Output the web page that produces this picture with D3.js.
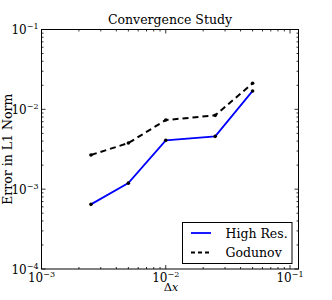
<!DOCTYPE html>
<html>
<head>
<meta charset="utf-8">
<script src="https://cdn.jsdelivr.net/npm/d3@7"></script>
<style>
  body { margin: 0; background: #fff; overflow: hidden; }
  svg { display: block; }
  text { font-family: "DejaVu Serif", "Liberation Serif", serif; fill: #000; }
</style>
</head>
<body>
<svg width="332" height="300"></svg>
<script>
const dx = [0.0025, 0.005, 0.01, 0.025, 0.05];
const highRes = [6.45e-4, 1.19e-3, 4.09e-3, 4.59e-3, 1.70e-2];
const godunov = [2.68e-3, 3.78e-3, 7.34e-3, 8.41e-3, 2.12e-2];
const xTicks = [1e-3, 1e-2, 1e-1];
const yTicks = [1e-4, 1e-3, 1e-2, 1e-1];
const seriesNames = ['High Res.', 'Godunov'];

const svg = d3.select('svg');
const margin = { top: 29.5, right: 33.5, bottom: 31, left: 41.5 };
const width = 332, height = 300;
const innerWidth = width - margin.left - margin.right;
const innerHeight = height - margin.top - margin.bottom;

// scales in absolute page coordinates
const xScale = d3.scaleLog().domain([1e-3, 0.117])
    .range([margin.left, margin.left + innerWidth]);
const yScale = d3.scaleLog().domain([1e-4, 1e-1])
    .range([margin.top + innerHeight, margin.top]);
const x0 = margin.left, x1 = margin.left + innerWidth;
const y0 = margin.top + innerHeight, y1 = margin.top;

// minor + major ticks, pointing inward on all four sides
const minorX = [], minorY = [];
for (let e = -3; e < 0; e++) for (let m = 2; m < 10; m++) {
    const v = m * Math.pow(10, e);
    if (v < 0.117) minorX.push(v);
}
for (let e = -4; e < -1; e++) for (let m = 2; m < 10; m++) minorY.push(m * Math.pow(10, e));

const tickG = svg.append('g').attr('stroke', '#000').attr('stroke-width', 0.8);
const xTick = (v, len) => {
    const x = xScale(v);
    tickG.append('line').attr('x1', x).attr('x2', x).attr('y1', y0).attr('y2', y0 - len);
    tickG.append('line').attr('x1', x).attr('x2', x).attr('y1', y1).attr('y2', y1 + len);
};
const yTick = (v, len) => {
    const y = yScale(v);
    tickG.append('line').attr('x1', x0).attr('x2', x0 + len).attr('y1', y).attr('y2', y);
    tickG.append('line').attr('x1', x1).attr('x2', x1 - len).attr('y1', y).attr('y2', y);
};
minorX.forEach(v => xTick(v, 2));
xTicks.forEach(v => xTick(v, 4));
minorY.forEach(v => yTick(v, 2));
yTicks.forEach(v => yTick(v, 4));

// "10" plus a superscript exponent, as two separate text nodes
const expLabel = (x, y, v, anchor) => {
    const e = '\u2212' + Math.abs(Math.round(Math.log10(v)));
    const base = svg.append('text').attr('y', y).attr('font-size', 12).attr('fill', '#222').text('10');
    const sup = svg.append('text').attr('y', y - 5).attr('font-size', 8).attr('fill', '#222').text(e);
    const bw = base.node().getComputedTextLength();
    const sw = sup.node().getComputedTextLength();
    const left = anchor === 'end' ? x - bw - sw : x - (bw + sw) / 2;
    base.attr('x', left);
    sup.attr('x', left + bw);
};

xTicks.forEach(v => expLabel(xScale(v), y0 + 12.5, v, 'middle'));
yTicks.forEach(v => expLabel(x0 - 3, yScale(v) + 4.5, v, 'end'));

// lines
const line = d3.line()
    .x((d, i) => xScale(dx[i]))
    .y(d => yScale(d));

svg.append('path').datum(godunov)
    .attr('fill', 'none').attr('stroke', '#000').attr('stroke-width', 2)
    .attr('stroke-dasharray', '6,4')
    .attr('d', line);
svg.append('path').datum(highRes)
    .attr('fill', 'none').attr('stroke', '#0000ff').attr('stroke-width', 1.8)
    .attr('d', line);

[highRes, godunov].forEach(s => {
    svg.selectAll(null).data(s).enter().append('circle')
        .attr('cx', (d, i) => xScale(dx[i]))
        .attr('cy', d => yScale(d))
        .attr('r', 1.8)
        .attr('fill', '#000');
});

// frame
svg.append('rect')
    .attr('x', x0).attr('y', y1)
    .attr('width', innerWidth).attr('height', innerHeight)
    .attr('fill', 'none').attr('stroke', '#000').attr('stroke-width', 1);

// legend
const lx = 182.5, ly = 222.5;
svg.append('rect').attr('x', lx).attr('y', ly).attr('width', 109.5).attr('height', 41)
    .attr('fill', '#fff').attr('stroke', '#000').attr('stroke-width', 1);
const styles = [
    { stroke: '#0000ff', dash: null, w: 1.8 },
    { stroke: '#000', dash: '4,3', w: 2 }
];
seriesNames.forEach((name, i) => {
    const y = ly + 10.5 + i * 19.5;
    svg.append('line')
        .attr('x1', lx + 8.5).attr('x2', lx + 28.5).attr('y1', y).attr('y2', y)
        .attr('stroke', styles[i].stroke).attr('stroke-width', styles[i].w)
        .attr('stroke-dasharray', styles[i].dash);
    svg.append('text')
        .attr('x', lx + 43).attr('y', y + 4.5)
        .attr('font-size', 12.5).text(name);
});

// titles
svg.append('text')
    .attr('x', margin.left + innerWidth / 2).attr('y', 24)
    .attr('text-anchor', 'middle').attr('font-size', 12.5)
    .text('Convergence Study');

svg.append('text')
    .attr('x', 168).attr('y', 290.5)
    .attr('text-anchor', 'middle').attr('font-size', 11.5)
    .text('\u0394');
svg.append('text')
    .attr('x', 175).attr('y', 290.5)
    .attr('text-anchor', 'middle').attr('font-size', 11.5).attr('font-style', 'italic')
    .text('x');

svg.append('text')
    .attr('transform', `translate(12, ${margin.top + innerHeight / 2}) rotate(-90)`)
    .attr('text-anchor', 'middle').attr('font-size', 12.5)
    .text('Error in L1 Norm');
</script>
</body>
</html>
